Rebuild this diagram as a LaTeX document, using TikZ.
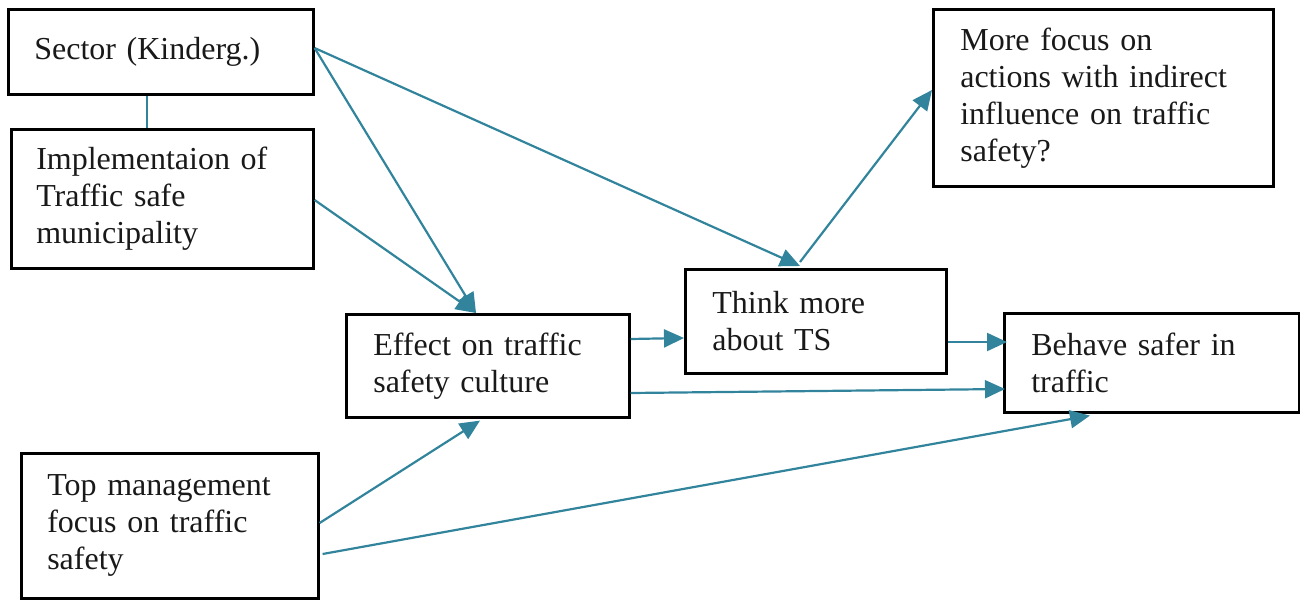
\documentclass[tikz,border=0pt]{standalone}
\usepackage{fontspec}
\setmainfont{Liberation Serif}
\usetikzlibrary{arrows.meta,calc}
\definecolor{arrowteal}{RGB}{49,132,155}
\begin{document}
\begin{tikzpicture}[x=0.5pt,y=-0.5pt,
  box/.style={draw=black, line width=1.3pt, anchor=north west, align=left,
    font=\fontsize{16}{18.5}\selectfont, inner ysep=0pt, text=black!90},
  conn/.style={draw=arrowteal, line width=1.1pt},
  arr/.style={conn, -{Triangle[length=10pt,width=9pt]}}]
\useasboundingbox (0,0) rectangle (1300,600);

\node[box, inner xsep=13pt, text width=126.5pt, minimum height=42.5pt] (sector) at (7,8) {Sector (Kinderg.)};
\node[box, inner xsep=12.5pt, text width=126pt, minimum height=69.5pt] (impl) at (10,128) {Implementaion of\\Traffic safe\\municipality};
\node[box, inner xsep=13.5pt, text width=114.5pt, minimum height=51.5pt] (effect) at (345,313) {Effect on traffic\\safety culture};
\node[box, inner xsep=13.5pt, text width=103.5pt, minimum height=52pt] (think) at (684,268) {Think more\\about TS};
\node[box, inner xsep=13.5pt, text width=143pt, minimum height=88.5pt] (focus) at (932,8) {More focus on\\actions with indirect\\influence on traffic\\safety?};
\node[box, inner xsep=13.5pt, text width=120.5pt, minimum height=49.5pt] (behave) at (1003,312) {Behave safer in\\traffic};
\node[box, inner xsep=13pt, text width=122.5pt, minimum height=72.5pt] (top) at (20,452) {Top management\\focus on traffic\\safety};

\draw[conn] ($(sector.south west)+(140,0)$) -- ($(impl.north west)+(137,0)$);
\draw[arr] ($(sector.north east)+(0,40)$) -- ($(effect.north west)+(131,0)$);
\draw[arr] ($(sector.north east)+(0,40)$) -- ($(think.north west)+(116,-2)$);
\draw[arr] ($(impl.north east)+(0,72)$) -- ($(effect.north west)+(131,0)$);
\draw[arr] ($(effect.north east)+(0,26)$) -- ($(think.north west)+(0,70)$);
\draw[arr] ($(effect.north east)+(0,80)$) -- ($(behave.north west)+(2,77)$);
\draw[arr] ($(think.north east)+(0,74)$) -- ($(behave.north west)+(4,30)$);
\draw[arr] ($(think.north west)+(116,-6)$) -- ($(focus.north west)+(0,82)$);
\draw[arr] ($(top.north east)+(0,71)$) -- ($(effect.south west)+(135,2)$);
\draw[arr] ($(top.north east)+(3,102)$) -- ($(behave.south west)+(87,2)$);
\end{tikzpicture}
\end{document}
